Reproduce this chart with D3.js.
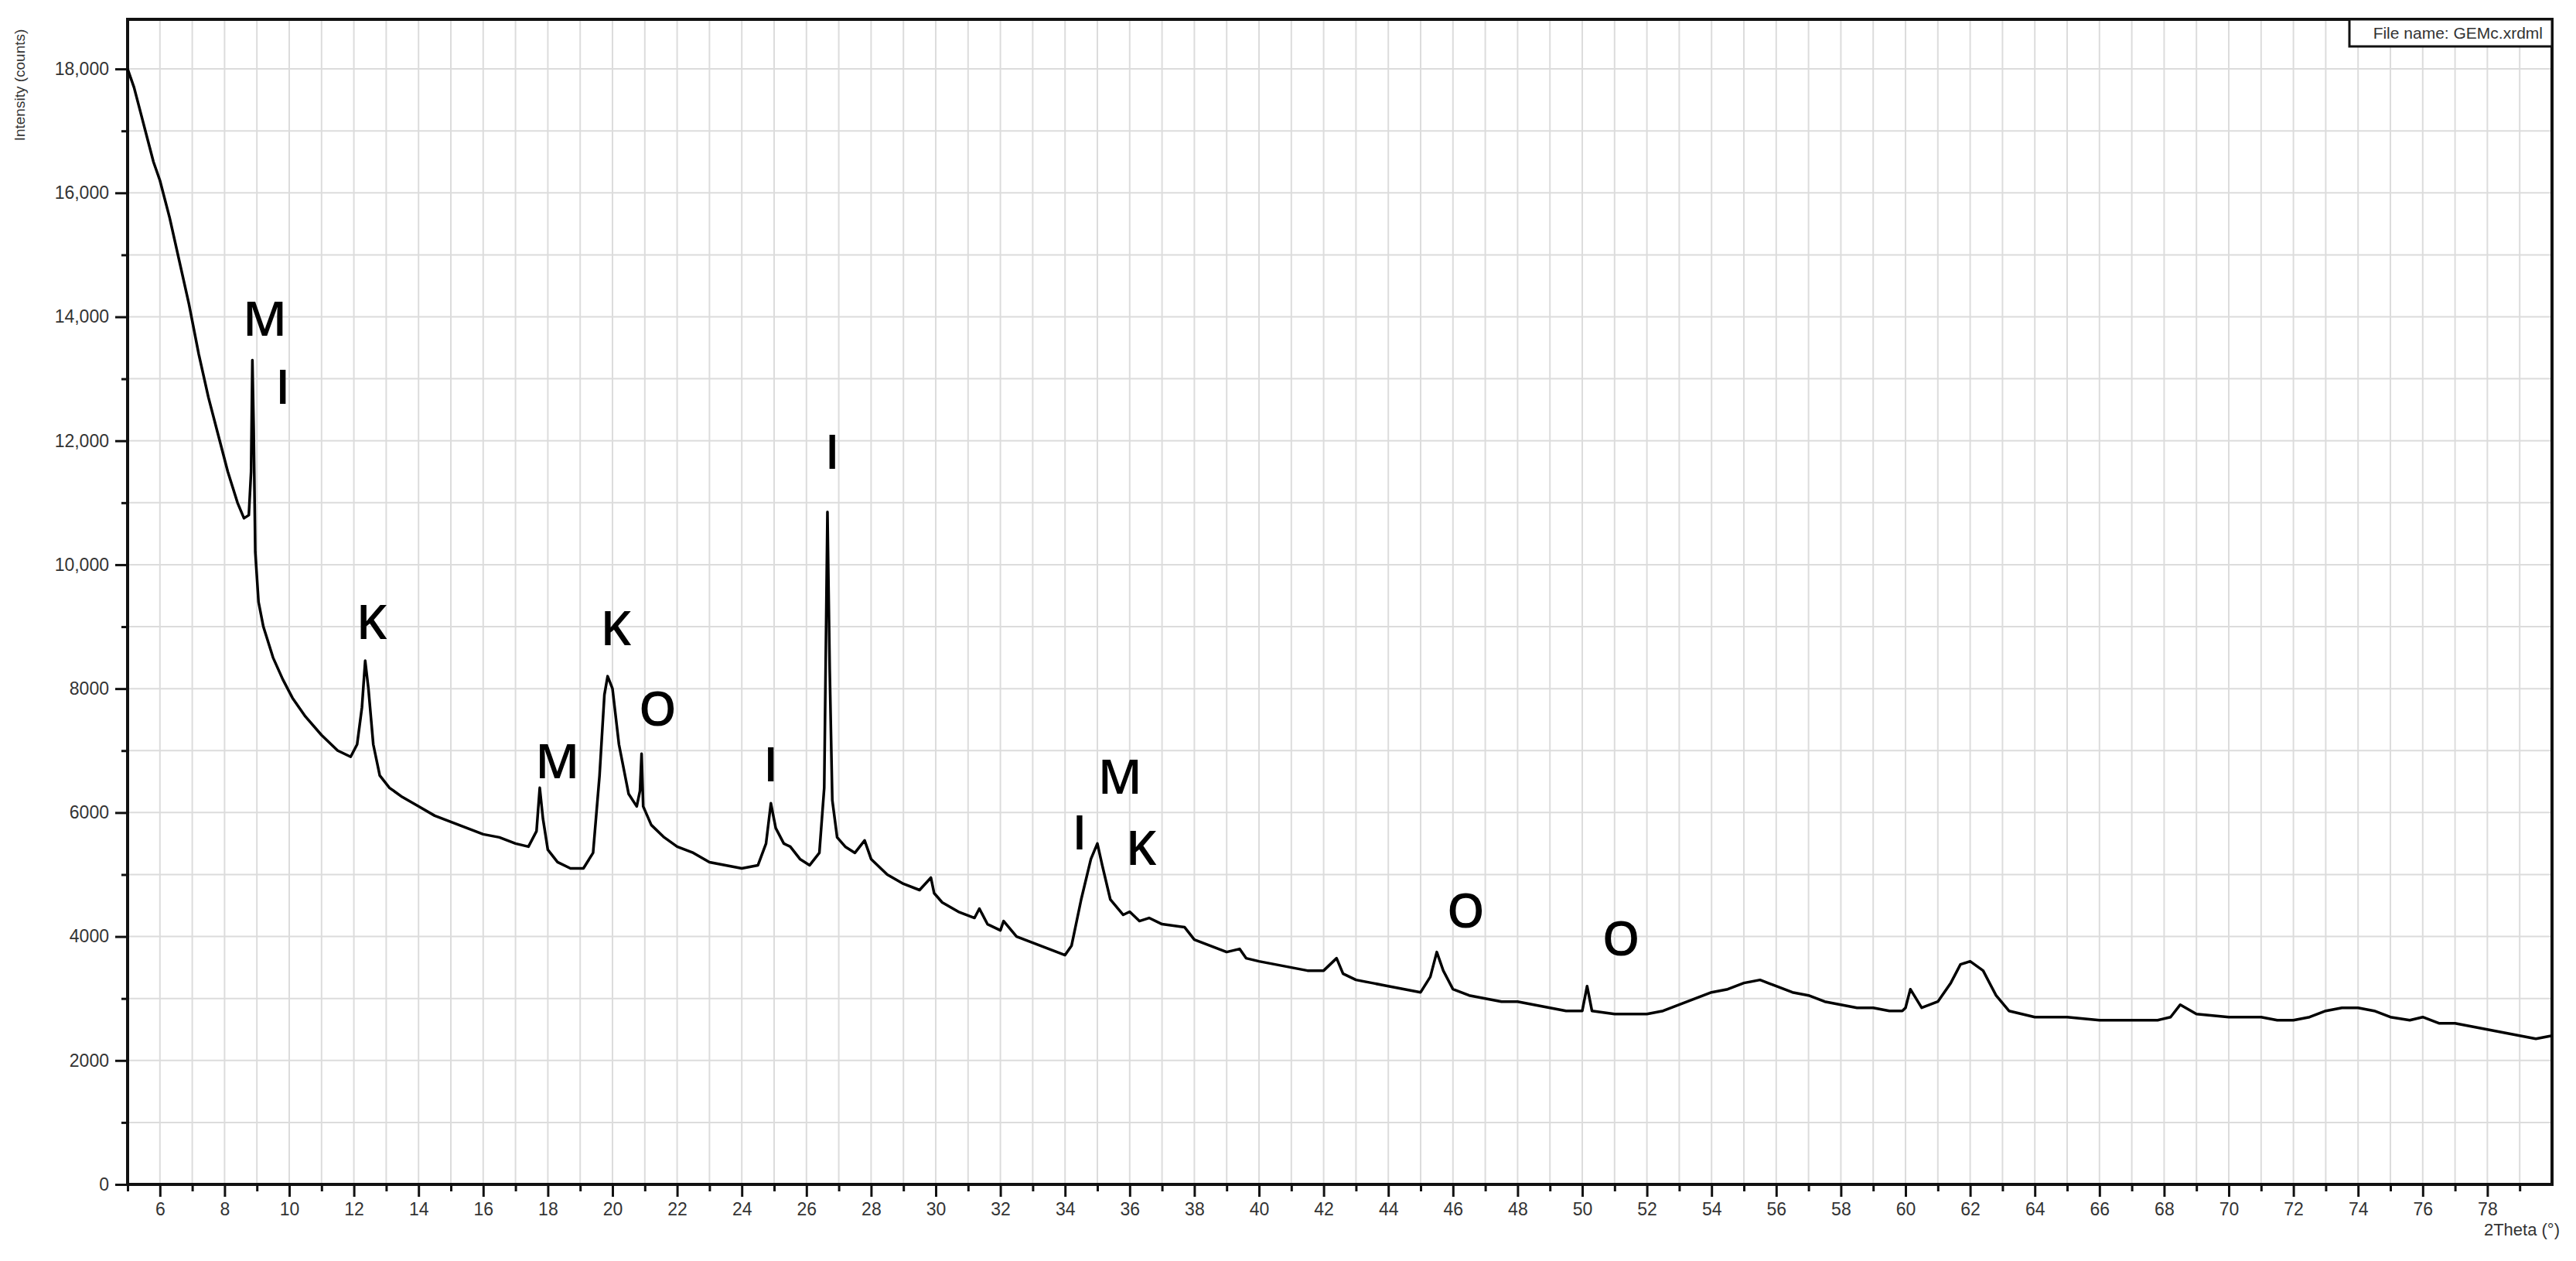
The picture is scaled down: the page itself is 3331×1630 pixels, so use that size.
<!DOCTYPE html>
<html>
<head>
<meta charset="utf-8">
<script src="https://cdn.jsdelivr.net/npm/d3@7"></script>
<style>
  body { margin: 0; background: #fff; }
  text { font-family: "Liberation Sans", Arial, sans-serif; }
</style>
</head>
<body>
<div id="chart"></div>
<script>
// Diffraction pattern: 2theta (deg) and intensity (counts)
const twoTheta = [5, 5.2, 5.4, 5.6, 5.8, 6, 6.3, 6.6, 6.9, 7.2, 7.5, 7.8, 8.1, 8.4, 8.6, 8.75, 8.82, 8.86, 8.9, 8.95, 9.05, 9.2, 9.5, 9.8, 10.1, 10.5, 11, 11.5, 11.9, 12.1, 12.25, 12.35, 12.45, 12.6, 12.8, 13.1, 13.5, 14, 14.5, 15, 15.5, 16, 16.5, 17, 17.4, 17.65, 17.75, 17.85, 18, 18.3, 18.7, 19.1, 19.4, 19.6, 19.75, 19.85, 20.0, 20.2, 20.5, 20.75, 20.85, 20.9, 20.95, 21.2, 21.6, 22, 22.5, 23, 23.5, 24, 24.5, 24.75, 24.9, 25.05, 25.3, 25.5, 25.8, 26.1, 26.4, 26.55, 26.65, 26.72, 26.8, 26.95, 27.2, 27.5, 27.8, 28, 28.5, 29, 29.5, 29.85, 29.95, 30.2, 30.7, 31.2, 31.35, 31.6, 32, 32.1, 32.5, 33, 33.5, 34, 34.2, 34.5, 34.8, 35.0, 35.15, 35.4, 35.8, 36.0, 36.3, 36.6, 37, 37.7, 38, 38.5, 39, 39.4, 39.6, 40, 40.5, 41, 41.5, 42, 42.4, 42.6, 43, 43.5, 44, 44.5, 45, 45.3, 45.5, 45.7, 46, 46.5, 47, 47.5, 48, 48.5, 49, 49.5, 50, 50.15, 50.3, 51, 51.5, 52, 52.5, 53, 53.5, 54, 54.5, 55, 55.5, 56, 56.5, 57, 57.5, 58, 58.5, 59, 59.5, 59.9, 60, 60.15, 60.5, 61, 61.4, 61.7, 62, 62.4, 62.8, 63.2, 64, 65, 66, 67, 67.8, 68.2, 68.5, 69, 70, 71, 71.5, 72, 72.5, 73, 73.5, 74, 74.5, 75, 75.6, 76, 76.5, 77, 77.5, 78, 78.5, 79, 79.5, 80];
const intensity = [18000, 17700, 17300, 16900, 16500, 16200, 15600, 14900, 14200, 13400, 12700, 12100, 11500, 11000, 10750, 10800, 11500, 13300, 12200, 10200, 9400, 9000, 8500, 8150, 7850, 7550, 7250, 7000, 6900, 7100, 7700, 8450, 8000, 7100, 6600, 6400, 6250, 6100, 5950, 5850, 5750, 5650, 5600, 5500, 5450, 5700, 6400, 5900, 5400, 5200, 5100, 5100, 5350, 6600, 7900, 8200, 8000, 7100, 6300, 6100, 6350, 6950, 6100, 5800, 5600, 5450, 5350, 5200, 5150, 5100, 5150, 5500, 6150, 5750, 5500, 5450, 5250, 5150, 5350, 6400, 10850, 8300, 6200, 5600, 5450, 5350, 5550, 5250, 5000, 4850, 4750, 4950, 4700, 4550, 4400, 4300, 4450, 4200, 4100, 4250, 4000, 3900, 3800, 3700, 3850, 4600, 5250, 5500, 5150, 4600, 4350, 4400, 4250, 4300, 4200, 4150, 3950, 3850, 3750, 3800, 3650, 3600, 3550, 3500, 3450, 3450, 3650, 3400, 3300, 3250, 3200, 3150, 3100, 3350, 3750, 3450, 3150, 3050, 3000, 2950, 2950, 2900, 2850, 2800, 2800, 3200, 2800, 2750, 2750, 2750, 2800, 2900, 3000, 3100, 3150, 3250, 3300, 3200, 3100, 3050, 2950, 2900, 2850, 2850, 2800, 2800, 2850, 3150, 2850, 2950, 3250, 3550, 3600, 3450, 3050, 2800, 2700, 2700, 2650, 2650, 2650, 2700, 2900, 2750, 2700, 2700, 2650, 2650, 2700, 2800, 2850, 2850, 2800, 2700, 2650, 2700, 2600, 2600, 2550, 2500, 2450, 2400, 2350, 2400];

// Phase labels: letter, 2theta, intensity at letter centre
const phaseLetters = ['M', 'I', 'K', 'M', 'K', 'O', 'I', 'I', 'I', 'M', 'K', 'O', 'O'];
const phaseTheta = [9.25, 9.8, 12.55, 18.3, 20.1, 21.4, 24.9, 26.8, 34.45, 35.7, 36.35, 46.4, 51.2];
const phaseCounts = [14000, 12900, 9100, 6850, 9000, 7700, 6800, 11850, 5700, 6600, 5450, 4450, 4000];

const majorX = d3.range(6, 80, 2);
const minorX = d3.range(5, 80, 1);
const majorY = d3.range(0, 18001, 2000);
const minorY = d3.range(0, 18801, 1000);

const svgWidth = 3331, svgHeight = 1630;
const margin = { top: 25, right: 31, bottom: 99, left: 165 };
const width = svgWidth - margin.left - margin.right;
const height = svgHeight - margin.top - margin.bottom;

const svg = d3.select('#chart').append('svg')
    .attr('width', svgWidth).attr('height', svgHeight);
const g = svg.append('g').attr('transform', `translate(${margin.left},${margin.top})`);

const x = d3.scaleLinear().domain([5, 80]).range([0, width]);
const y = d3.scaleLinear().domain([0, 18800]).range([height, 0]);

// Grid
g.append('g').selectAll('line').data(minorX).join('line')
    .attr('x1', d => x(d)).attr('x2', d => x(d)).attr('y1', 0).attr('y2', height)
    .attr('stroke', '#dcdcdc').attr('stroke-width', 2);
g.append('g').selectAll('line').data(minorY).join('line')
    .attr('y1', d => y(d)).attr('y2', d => y(d)).attr('x1', 0).attr('x2', width)
    .attr('stroke', '#dcdcdc').attr('stroke-width', 2);

// Axes
const fmt = d => d >= 10000 ? d3.format(',')(d) : String(d);
g.append('g').attr('transform', `translate(0,${height})`)
    .call(d3.axisBottom(x).tickValues(majorX).tickSize(16).tickPadding(8).tickFormat(d3.format('d')));
g.append('g').attr('transform', `translate(0,${height})`)
    .call(d3.axisBottom(x).tickValues(minorX.filter(d => d % 2 === 1)).tickSize(9).tickFormat(''))
    .select('.domain').remove();
g.append('g')
    .call(d3.axisLeft(y).tickValues(majorY).tickSize(16).tickPadding(8).tickFormat(fmt));
g.append('g')
    .call(d3.axisLeft(y).tickValues(minorY.filter(d => d % 2000 === 1000)).tickSize(8).tickFormat(''))
    .select('.domain').remove();
svg.selectAll('.tick line').attr('stroke', '#111').attr('stroke-width', 3);
svg.selectAll('.tick text').attr('fill', '#333').style('font-size', '23px');
svg.selectAll('.domain').remove();

// Frame
g.append('rect').attr('width', width).attr('height', height)
    .attr('fill', 'none').attr('stroke', '#111').attr('stroke-width', 4);

// Pattern
const pts = twoTheta.map((t, i) => [t, intensity[i]]);
g.append('path').datum(pts)
    .attr('d', d3.line().x(d => x(d[0])).y(d => y(d[1])))
    .attr('fill', 'none').attr('stroke', '#000').attr('stroke-width', 3.5)
    .attr('stroke-linejoin', 'round');

// Phase letters
g.append('g').selectAll('text').data(phaseLetters).join('text')
    .attr('x', (d, i) => x(phaseTheta[i])).attr('y', (d, i) => y(phaseCounts[i]))
    .attr('text-anchor', 'middle').attr('dominant-baseline', 'central')
    .style('font-family', '"Open Sans", sans-serif').style('font-weight', 600)
    .style('font-size', '62px').attr('fill', '#000')
    .text(d => d);

// File name box
const boxW = 262, boxH = 35;
g.append('rect').attr('x', width - boxW).attr('y', 0).attr('width', boxW).attr('height', boxH)
    .attr('fill', '#fff').attr('stroke', '#111').attr('stroke-width', 3);
g.append('text').attr('x', width - 12).attr('y', 25).attr('text-anchor', 'end')
    .style('font-size', '21px').attr('fill', '#333').text('File name: GEMc.xrdml');

// Axis titles
svg.append('text').attr('transform', 'translate(32,110) rotate(-90)')
    .attr('text-anchor', 'middle').style('font-size', '19px').attr('fill', '#333')
    .text('Intensity (counts)');
svg.append('text').attr('x', 3310).attr('y', 1597).attr('text-anchor', 'end')
    .style('font-size', '22px').attr('fill', '#333').text('2Theta (°)');
</script>
</body>
</html>
